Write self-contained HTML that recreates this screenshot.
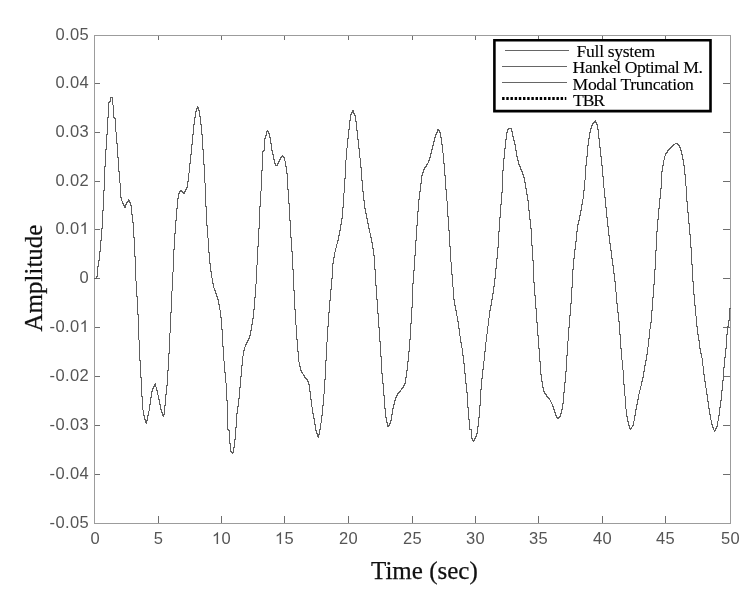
<!DOCTYPE html>
<html><head><meta charset="utf-8"><style>
html,body{margin:0;padding:0;background:#fff;width:750px;height:595px;overflow:hidden}
svg{display:block;will-change:transform}
</style></head><body>
<svg width="750" height="595" viewBox="0 0 750 595">
<rect width="750" height="595" fill="#fff"/>
<path d="M158.5 523v-7M158.5 36v4M221.5 523v-7M221.5 36v4M284.5 523v-7M284.5 36v4M348.5 523v-7M348.5 36v4M412.5 523v-7M412.5 36v4M475.5 523v-7M475.5 36v4M538.5 523v-7M538.5 36v4M602.5 523v-7M602.5 36v4M665.5 523v-7M665.5 36v4M95 83.5h5M730 83.5h-7M95 132.5h5M730 132.5h-7M95 181.5h5M730 181.5h-7M95 229.5h5M730 229.5h-7M95 278.5h5M730 278.5h-7M95 327.5h5M730 327.5h-7M95 376.5h5M730 376.5h-7M95 425.5h5M730 425.5h-7M95 474.5h5M730 474.5h-7" stroke="#6e6e6e" stroke-width="1" fill="none" shape-rendering="crispEdges"/>
<rect x="94.5" y="35.5" width="636" height="488" fill="none" stroke="#9c9c9c" stroke-width="1" shape-rendering="crispEdges"/>
<path d="M94 278h1v1h-1zM95 278h1v1h-1zM96 276h1v3h-1zM97 266h1v11h-1zM98 260h1v7h-1zM99 251h1v10h-1zM100 240h1v12h-1zM101 228h1v13h-1zM102 210h1v19h-1zM103 190h1v21h-1zM104 166h1v25h-1zM105 149h1v18h-1zM106 134h1v16h-1zM107 117h1v18h-1zM108 102h1v16h-1zM109 101h1v2h-1zM110 97h1v5h-1zM111 97h1v1h-1zM112 97h1v8h-1zM113 105h1v13h-1zM114 117h1v2h-1zM115 118h1v14h-1zM116 132h1v12h-1zM117 143h1v15h-1zM118 157h1v15h-1zM119 171h1v12h-1zM120 183h1v15h-1zM121 197h1v4h-1zM122 201h1v3h-1zM123 203h1v3h-1zM124 205h1v3h-1zM125 204h1v4h-1zM126 202h1v3h-1zM127 201h1v2h-1zM128 199h1v3h-1zM129 200h1v3h-1zM130 202h1v4h-1zM131 205h1v10h-1zM132 214h1v9h-1zM133 222h1v16h-1zM134 237h1v20h-1zM135 256h1v25h-1zM136 281h1v16h-1zM137 296h1v19h-1zM138 314h1v26h-1zM139 340h1v21h-1zM140 360h1v18h-1zM141 377h1v20h-1zM142 396h1v14h-1zM143 410h1v6h-1zM144 415h1v5h-1zM145 419h1v4h-1zM146 420h1v4h-1zM147 415h1v6h-1zM148 411h1v5h-1zM149 404h1v7h-1zM150 397h1v8h-1zM151 391h1v7h-1zM152 388h1v4h-1zM153 386h1v3h-1zM154 384h1v3h-1zM155 383h1v4h-1zM156 387h1v4h-1zM157 390h1v5h-1zM158 395h1v5h-1zM159 399h1v6h-1zM160 404h1v6h-1zM161 409h1v4h-1zM162 412h1v4h-1zM163 414h1v3h-1zM164 405h1v10h-1zM165 394h1v12h-1zM166 385h1v10h-1zM167 370h1v16h-1zM168 353h1v18h-1zM169 333h1v21h-1zM170 312h1v21h-1zM171 291h1v22h-1zM172 272h1v19h-1zM173 249h1v23h-1zM174 233h1v17h-1zM175 220h1v14h-1zM176 208h1v13h-1zM177 198h1v11h-1zM178 193h1v6h-1zM179 191h1v3h-1zM180 190h1v2h-1zM181 190h1v2h-1zM182 191h1v2h-1zM183 192h1v2h-1zM184 191h1v3h-1zM185 189h1v3h-1zM186 187h1v3h-1zM187 181h1v7h-1zM188 173h1v9h-1zM189 163h1v10h-1zM190 154h1v10h-1zM191 144h1v11h-1zM192 134h1v11h-1zM193 124h1v11h-1zM194 117h1v8h-1zM195 111h1v7h-1zM196 108h1v4h-1zM197 106h1v3h-1zM198 107h1v4h-1zM199 110h1v7h-1zM200 116h1v9h-1zM201 124h1v11h-1zM202 134h1v16h-1zM203 149h1v16h-1zM204 164h1v19h-1zM205 183h1v24h-1zM206 206h1v20h-1zM207 225h1v13h-1zM208 238h1v15h-1zM209 252h1v12h-1zM210 263h1v9h-1zM211 271h1v7h-1zM212 278h1v6h-1zM213 283h1v5h-1zM214 288h1v3h-1zM215 290h1v4h-1zM216 293h1v4h-1zM217 296h1v4h-1zM218 299h1v6h-1zM219 304h1v6h-1zM220 310h1v8h-1zM221 317h1v13h-1zM222 329h1v18h-1zM223 346h1v15h-1zM224 361h1v12h-1zM225 372h1v11h-1zM226 383h1v18h-1zM227 400h1v30h-1zM228 429h1v2h-1zM229 430h1v14h-1zM230 443h1v9h-1zM231 451h1v2h-1zM232 452h1v2h-1zM233 447h1v6h-1zM234 439h1v9h-1zM235 427h1v13h-1zM236 413h1v15h-1zM237 406h1v8h-1zM238 398h1v9h-1zM239 387h1v12h-1zM240 376h1v12h-1zM241 365h1v12h-1zM242 356h1v10h-1zM243 350h1v6h-1zM244 347h1v4h-1zM245 344h1v3h-1zM246 342h1v3h-1zM247 340h1v3h-1zM248 338h1v3h-1zM249 335h1v4h-1zM250 330h1v6h-1zM251 324h1v7h-1zM252 318h1v7h-1zM253 309h1v10h-1zM254 297h1v13h-1zM255 284h1v14h-1zM256 265h1v19h-1zM257 246h1v19h-1zM258 228h1v19h-1zM259 206h1v23h-1zM260 191h1v16h-1zM261 170h1v21h-1zM262 151h1v20h-1zM263 150h1v2h-1zM264 138h1v13h-1zM265 135h1v4h-1zM266 131h1v5h-1zM267 130h1v2h-1zM268 131h1v3h-1zM269 133h1v5h-1zM270 137h1v7h-1zM271 143h1v8h-1zM272 150h1v5h-1zM273 154h1v6h-1zM274 159h1v5h-1zM275 163h1v3h-1zM276 165h1v1h-1zM277 163h1v3h-1zM278 161h1v3h-1zM279 159h1v3h-1zM280 157h1v3h-1zM281 156h1v2h-1zM282 155h1v2h-1zM283 156h1v2h-1zM284 157h1v4h-1zM285 161h1v6h-1zM286 166h1v8h-1zM287 173h1v17h-1zM288 189h1v15h-1zM289 203h1v18h-1zM290 220h1v18h-1zM291 237h1v15h-1zM292 251h1v19h-1zM293 269h1v22h-1zM294 290h1v20h-1zM295 309h1v16h-1zM296 325h1v15h-1zM297 339h1v13h-1zM298 351h1v11h-1zM299 362h1v5h-1zM300 366h1v5h-1zM301 370h1v3h-1zM302 372h1v2h-1zM303 374h1v2h-1zM304 375h1v3h-1zM305 377h1v2h-1zM306 378h1v2h-1zM307 379h1v3h-1zM308 381h1v4h-1zM309 384h1v8h-1zM310 391h1v9h-1zM311 399h1v8h-1zM312 407h1v7h-1zM313 413h1v6h-1zM314 418h1v7h-1zM315 424h1v7h-1zM316 430h1v4h-1zM317 433h1v4h-1zM318 434h1v4h-1zM319 429h1v6h-1zM320 423h1v7h-1zM321 415h1v8h-1zM322 405h1v11h-1zM323 394h1v12h-1zM324 379h1v15h-1zM325 360h1v20h-1zM326 342h1v19h-1zM327 326h1v16h-1zM328 312h1v15h-1zM329 300h1v13h-1zM330 289h1v12h-1zM331 278h1v12h-1zM332 263h1v16h-1zM333 257h1v7h-1zM334 252h1v6h-1zM335 248h1v4h-1zM336 244h1v4h-1zM337 240h1v4h-1zM338 235h1v6h-1zM339 230h1v6h-1zM340 224h1v7h-1zM341 218h1v7h-1zM342 207h1v12h-1zM343 193h1v15h-1zM344 178h1v15h-1zM345 160h1v19h-1zM346 148h1v12h-1zM347 138h1v10h-1zM348 129h1v10h-1zM349 120h1v10h-1zM350 114h1v7h-1zM351 112h1v3h-1zM352 110h1v3h-1zM353 110h1v4h-1zM354 113h1v3h-1zM355 115h1v7h-1zM356 121h1v10h-1zM357 130h1v10h-1zM358 139h1v10h-1zM359 148h1v10h-1zM360 158h1v10h-1zM361 167h1v14h-1zM362 180h1v12h-1zM363 191h1v10h-1zM364 200h1v9h-1zM365 208h1v6h-1zM366 213h1v6h-1zM367 218h1v6h-1zM368 223h1v6h-1zM369 228h1v5h-1zM370 233h1v5h-1zM371 237h1v6h-1zM372 242h1v7h-1zM373 248h1v8h-1zM374 255h1v15h-1zM375 269h1v17h-1zM376 285h1v15h-1zM377 299h1v15h-1zM378 313h1v15h-1zM379 327h1v15h-1zM380 341h1v16h-1zM381 356h1v18h-1zM382 373h1v11h-1zM383 383h1v13h-1zM384 395h1v14h-1zM385 408h1v10h-1zM386 417h1v6h-1zM387 422h1v5h-1zM388 425h1v2h-1zM389 423h1v3h-1zM390 420h1v4h-1zM391 414h1v7h-1zM392 408h1v7h-1zM393 404h1v5h-1zM394 400h1v5h-1zM395 397h1v4h-1zM396 395h1v3h-1zM397 393h1v3h-1zM398 392h1v2h-1zM399 391h1v2h-1zM400 390h1v2h-1zM401 388h1v2h-1zM402 387h1v2h-1zM403 385h1v3h-1zM404 383h1v3h-1zM405 377h1v7h-1zM406 370h1v8h-1zM407 361h1v10h-1zM408 351h1v11h-1zM409 339h1v13h-1zM410 323h1v17h-1zM411 307h1v17h-1zM412 283h1v25h-1zM413 270h1v14h-1zM414 255h1v16h-1zM415 240h1v16h-1zM416 225h1v16h-1zM417 211h1v15h-1zM418 199h1v13h-1zM419 191h1v9h-1zM420 183h1v9h-1zM421 175h1v9h-1zM422 172h1v4h-1zM423 169h1v4h-1zM424 167h1v3h-1zM425 166h1v2h-1zM426 164h1v3h-1zM427 163h1v2h-1zM428 160h1v3h-1zM429 157h1v4h-1zM430 153h1v5h-1zM431 149h1v5h-1zM432 145h1v5h-1zM433 141h1v5h-1zM434 137h1v5h-1zM435 134h1v4h-1zM436 132h1v3h-1zM437 129h1v4h-1zM438 129h1v2h-1zM439 130h1v3h-1zM440 132h1v6h-1zM441 137h1v8h-1zM442 144h1v9h-1zM443 153h1v11h-1zM444 163h1v13h-1zM445 175h1v15h-1zM446 189h1v12h-1zM447 201h1v16h-1zM448 216h1v15h-1zM449 230h1v17h-1zM450 246h1v16h-1zM451 262h1v13h-1zM452 274h1v13h-1zM453 287h1v13h-1zM454 299h1v7h-1zM455 305h1v6h-1zM456 310h1v6h-1zM457 316h1v6h-1zM458 321h1v8h-1zM459 328h1v8h-1zM460 336h1v7h-1zM461 342h1v6h-1zM462 348h1v8h-1zM463 355h1v9h-1zM464 363h1v11h-1zM465 373h1v11h-1zM466 383h1v10h-1zM467 392h1v16h-1zM468 407h1v13h-1zM469 419h1v11h-1zM470 429h1v1h-1zM471 429h1v10h-1zM472 438h1v3h-1zM473 440h1v2h-1zM474 438h1v3h-1zM475 436h1v3h-1zM476 433h1v4h-1zM477 426h1v8h-1zM478 417h1v10h-1zM479 405h1v13h-1zM480 389h1v17h-1zM481 378h1v12h-1zM482 369h1v10h-1zM483 361h1v9h-1zM484 351h1v10h-1zM485 342h1v10h-1zM486 334h1v8h-1zM487 326h1v8h-1zM488 318h1v8h-1zM489 310h1v8h-1zM490 305h1v6h-1zM491 299h1v7h-1zM492 293h1v7h-1zM493 286h1v8h-1zM494 278h1v9h-1zM495 268h1v11h-1zM496 258h1v11h-1zM497 247h1v12h-1zM498 231h1v17h-1zM499 217h1v15h-1zM500 204h1v14h-1zM501 192h1v13h-1zM502 170h1v23h-1zM503 158h1v13h-1zM504 148h1v11h-1zM505 139h1v10h-1zM506 132h1v8h-1zM507 129h1v4h-1zM508 128h1v2h-1zM509 128h1v1h-1zM510 128h1v1h-1zM511 128h1v4h-1zM512 131h1v6h-1zM513 136h1v5h-1zM514 140h1v5h-1zM515 144h1v7h-1zM516 150h1v7h-1zM517 156h1v5h-1zM518 160h1v5h-1zM519 164h1v3h-1zM520 166h1v4h-1zM521 169h1v3h-1zM522 171h1v4h-1zM523 174h1v4h-1zM524 177h1v6h-1zM525 182h1v7h-1zM526 188h1v7h-1zM527 194h1v7h-1zM528 200h1v11h-1zM529 210h1v10h-1zM530 219h1v10h-1zM531 228h1v18h-1zM532 245h1v16h-1zM533 260h1v23h-1zM534 282h1v14h-1zM535 295h1v14h-1zM536 308h1v15h-1zM537 322h1v14h-1zM538 335h1v14h-1zM539 348h1v14h-1zM540 361h1v14h-1zM541 374h1v8h-1zM542 381h1v7h-1zM543 387h1v5h-1zM544 391h1v3h-1zM545 393h1v2h-1zM546 394h1v3h-1zM547 396h1v2h-1zM548 397h1v2h-1zM549 398h1v2h-1zM550 400h1v2h-1zM551 402h1v2h-1zM552 404h1v3h-1zM553 406h1v4h-1zM554 409h1v4h-1zM555 412h1v4h-1zM556 415h1v3h-1zM557 417h1v2h-1zM558 417h1v2h-1zM559 416h1v2h-1zM560 413h1v4h-1zM561 409h1v5h-1zM562 403h1v7h-1zM563 392h1v12h-1zM564 382h1v11h-1zM565 371h1v12h-1zM566 355h1v17h-1zM567 341h1v15h-1zM568 327h1v14h-1zM569 315h1v13h-1zM570 303h1v13h-1zM571 287h1v17h-1zM572 269h1v19h-1zM573 258h1v12h-1zM574 249h1v10h-1zM575 241h1v9h-1zM576 231h1v11h-1zM577 224h1v8h-1zM578 220h1v5h-1zM579 215h1v6h-1zM580 210h1v6h-1zM581 204h1v7h-1zM582 199h1v6h-1zM583 190h1v9h-1zM584 180h1v11h-1zM585 165h1v15h-1zM586 156h1v10h-1zM587 145h1v12h-1zM588 138h1v8h-1zM589 132h1v7h-1zM590 128h1v5h-1zM591 125h1v4h-1zM592 123h1v3h-1zM593 122h1v2h-1zM594 121h1v2h-1zM595 120h1v3h-1zM596 122h1v3h-1zM597 124h1v6h-1zM598 129h1v10h-1zM599 138h1v10h-1zM600 147h1v10h-1zM601 156h1v10h-1zM602 165h1v12h-1zM603 176h1v12h-1zM604 188h1v10h-1zM605 197h1v11h-1zM606 207h1v11h-1zM607 217h1v10h-1zM608 226h1v10h-1zM609 235h1v9h-1zM610 243h1v8h-1zM611 250h1v9h-1zM612 258h1v8h-1zM613 265h1v9h-1zM614 273h1v9h-1zM615 281h1v11h-1zM616 292h1v12h-1zM617 303h1v10h-1zM618 312h1v10h-1zM619 321h1v14h-1zM620 334h1v15h-1zM621 348h1v12h-1zM622 360h1v10h-1zM623 370h1v15h-1zM624 384h1v12h-1zM625 396h1v13h-1zM626 409h1v8h-1zM627 416h1v6h-1zM628 421h1v5h-1zM629 425h1v4h-1zM630 428h1v2h-1zM631 427h1v2h-1zM632 425h1v2h-1zM633 421h1v5h-1zM634 415h1v6h-1zM635 409h1v7h-1zM636 404h1v6h-1zM637 399h1v6h-1zM638 394h1v6h-1zM639 390h1v4h-1zM640 386h1v4h-1zM641 381h1v5h-1zM642 377h1v5h-1zM643 371h1v7h-1zM644 365h1v7h-1zM645 360h1v6h-1zM646 354h1v7h-1zM647 347h1v8h-1zM648 338h1v9h-1zM649 329h1v10h-1zM650 322h1v7h-1zM651 310h1v13h-1zM652 297h1v14h-1zM653 284h1v14h-1zM654 269h1v16h-1zM655 250h1v20h-1zM656 231h1v20h-1zM657 219h1v13h-1zM658 208h1v12h-1zM659 198h1v11h-1zM660 188h1v11h-1zM661 171h1v18h-1zM662 165h1v7h-1zM663 160h1v6h-1zM664 156h1v4h-1zM665 153h1v3h-1zM666 152h1v2h-1zM667 150h1v3h-1zM668 149h1v2h-1zM669 148h1v2h-1zM670 147h1v2h-1zM671 146h1v2h-1zM672 145h1v2h-1zM673 144h1v2h-1zM674 144h1v1h-1zM675 143h1v1h-1zM676 143h1v1h-1zM677 143h1v2h-1zM678 144h1v2h-1zM679 145h1v3h-1zM680 147h1v4h-1zM681 150h1v5h-1zM682 154h1v6h-1zM683 159h1v7h-1zM684 165h1v10h-1zM685 174h1v12h-1zM686 186h1v16h-1zM687 201h1v12h-1zM688 212h1v12h-1zM689 223h1v12h-1zM690 234h1v14h-1zM691 247h1v18h-1zM692 264h1v18h-1zM693 281h1v14h-1zM694 294h1v12h-1zM695 305h1v11h-1zM696 316h1v11h-1zM697 326h1v9h-1zM698 334h1v7h-1zM699 340h1v9h-1zM700 348h1v6h-1zM701 353h1v5h-1zM702 358h1v8h-1zM703 366h1v9h-1zM704 374h1v8h-1zM705 381h1v7h-1zM706 388h1v7h-1zM707 394h1v8h-1zM708 401h1v8h-1zM709 408h1v7h-1zM710 414h1v6h-1zM711 420h1v5h-1zM712 424h1v4h-1zM713 427h1v3h-1zM714 430h1v2h-1zM715 428h1v3h-1zM716 426h1v3h-1zM717 421h1v6h-1zM718 415h1v6h-1zM719 407h1v9h-1zM720 400h1v8h-1zM721 390h1v11h-1zM722 380h1v11h-1zM723 367h1v14h-1zM724 357h1v11h-1zM725 348h1v10h-1zM726 334h1v15h-1zM727 326h1v9h-1zM728 320h1v7h-1zM729 308h1v13h-1zM730 308h1v1h-1z" fill="#5e5e5e" shape-rendering="crispEdges"/>
<text x="55.49" y="40" style="font-family:'Liberation Sans',sans-serif;font-size:16.5px;letter-spacing:0.4px;fill:#555">0.05</text>
<text x="55.49" y="88" style="font-family:'Liberation Sans',sans-serif;font-size:16.5px;letter-spacing:0.4px;fill:#555">0.04</text>
<text x="55.49" y="137" style="font-family:'Liberation Sans',sans-serif;font-size:16.5px;letter-spacing:0.4px;fill:#555">0.03</text>
<text x="55.49" y="186" style="font-family:'Liberation Sans',sans-serif;font-size:16.5px;letter-spacing:0.4px;fill:#555">0.02</text>
<text x="55.49" y="234" style="font-family:'Liberation Sans',sans-serif;font-size:16.5px;letter-spacing:0.4px;fill:#555">0.0 </text>
<text x="79.62" y="283" style="font-family:'Liberation Sans',sans-serif;font-size:16.5px;letter-spacing:0.4px;fill:#555">0</text>
<text x="49.59" y="332" style="font-family:'Liberation Sans',sans-serif;font-size:16.5px;letter-spacing:0.4px;fill:#555">-0.0 </text>
<text x="49.59" y="381" style="font-family:'Liberation Sans',sans-serif;font-size:16.5px;letter-spacing:0.4px;fill:#555">-0.02</text>
<text x="49.59" y="430" style="font-family:'Liberation Sans',sans-serif;font-size:16.5px;letter-spacing:0.4px;fill:#555">-0.03</text>
<text x="49.59" y="479" style="font-family:'Liberation Sans',sans-serif;font-size:16.5px;letter-spacing:0.4px;fill:#555">-0.04</text>
<text x="49.59" y="528" style="font-family:'Liberation Sans',sans-serif;font-size:16.5px;letter-spacing:0.4px;fill:#555">-0.05</text>
<text x="90.51" y="544" style="font-family:'Liberation Sans',sans-serif;font-size:16.5px;letter-spacing:0.4px;fill:#555">0</text>
<text x="153.71" y="544" style="font-family:'Liberation Sans',sans-serif;font-size:16.5px;letter-spacing:0.4px;fill:#555">5</text>
<text x="211.92" y="544" style="font-family:'Liberation Sans',sans-serif;font-size:16.5px;letter-spacing:0.4px;fill:#555"> 0</text>
<text x="274.92" y="544" style="font-family:'Liberation Sans',sans-serif;font-size:16.5px;letter-spacing:0.4px;fill:#555"> 5</text>
<text x="338.92" y="544" style="font-family:'Liberation Sans',sans-serif;font-size:16.5px;letter-spacing:0.4px;fill:#555">20</text>
<text x="402.92" y="544" style="font-family:'Liberation Sans',sans-serif;font-size:16.5px;letter-spacing:0.4px;fill:#555">25</text>
<text x="465.92" y="544" style="font-family:'Liberation Sans',sans-serif;font-size:16.5px;letter-spacing:0.4px;fill:#555">30</text>
<text x="528.92" y="544" style="font-family:'Liberation Sans',sans-serif;font-size:16.5px;letter-spacing:0.4px;fill:#555">35</text>
<text x="592.92" y="544" style="font-family:'Liberation Sans',sans-serif;font-size:16.5px;letter-spacing:0.4px;fill:#555">40</text>
<text x="655.92" y="544" style="font-family:'Liberation Sans',sans-serif;font-size:16.5px;letter-spacing:0.4px;fill:#555">45</text>
<text x="720.92" y="544" style="font-family:'Liberation Sans',sans-serif;font-size:16.5px;letter-spacing:0.4px;fill:#555">50</text>
<g fill="#555"><path transform="translate(79.62,234) scale(0.008057,-0.008057)" d="M763 0H583V1147Q518 1085 412 1023T223 930V1104Q374 1175 487 1276T647 1472H763Z"/><path transform="translate(79.62,332) scale(0.008057,-0.008057)" d="M763 0H583V1147Q518 1085 412 1023T223 930V1104Q374 1175 487 1276T647 1472H763Z"/><path transform="translate(211.92,544) scale(0.008057,-0.008057)" d="M763 0H583V1147Q518 1085 412 1023T223 930V1104Q374 1175 487 1276T647 1472H763Z"/><path transform="translate(274.92,544) scale(0.008057,-0.008057)" d="M763 0H583V1147Q518 1085 412 1023T223 930V1104Q374 1175 487 1276T647 1472H763Z"/></g>
<text x="371" y="578.7" style="font-family:'Liberation Serif',serif;font-size:25px;fill:#111;stroke:#111;stroke-width:0.25px">Time (sec)</text>
<text transform="translate(42,278) rotate(-90)" text-anchor="middle" style="font-family:'Liberation Serif',serif;font-size:25px;fill:#111;stroke:#111;stroke-width:0.25px">Amplitude</text>
<rect x="494" y="40" width="216" height="71" fill="#fff"/>
<path d="M493.1 38.9h218.7v73.6h-218.7zM495.7 41.6v68.2h213.5v-68.2z" fill="#000" fill-rule="evenodd"/>
<path d="M505 50.5H569M502 66.5H566.5M502 82.5H566.5" stroke="#666" stroke-width="1" shape-rendering="crispEdges"/>
<path d="M502.10 98.5h2.45M506.28 98.5h2.45M510.46 98.5h2.45M514.64 98.5h2.45M518.82 98.5h2.45M523.00 98.5h2.45M527.18 98.5h2.45M531.36 98.5h2.45M535.54 98.5h2.45M539.72 98.5h2.45M543.90 98.5h2.45M548.08 98.5h2.45M552.26 98.5h2.45M556.44 98.5h2.45M560.62 98.5h2.45M564.80 98.5h1.50" stroke="#000" stroke-width="2.9"/>
<text x="576.6" y="57.4" textLength="78.5" lengthAdjust="spacing" style="font-family:'Liberation Serif',serif;font-size:17.6px;fill:#000;stroke:#000;stroke-width:0.12px">Full system</text>
<text x="572.6" y="72.8" textLength="130.3" lengthAdjust="spacing" style="font-family:'Liberation Serif',serif;font-size:17.6px;fill:#000;stroke:#000;stroke-width:0.12px">Hankel Optimal M.</text>
<text x="572.6" y="89.6" textLength="121.3" lengthAdjust="spacing" style="font-family:'Liberation Serif',serif;font-size:17.6px;fill:#000;stroke:#000;stroke-width:0.12px">Modal Truncation</text>
<text x="573" y="105.6" textLength="32" lengthAdjust="spacing" style="font-family:'Liberation Serif',serif;font-size:17.6px;fill:#000;stroke:#000;stroke-width:0.12px">TBR</text>
</svg>
</body></html>
